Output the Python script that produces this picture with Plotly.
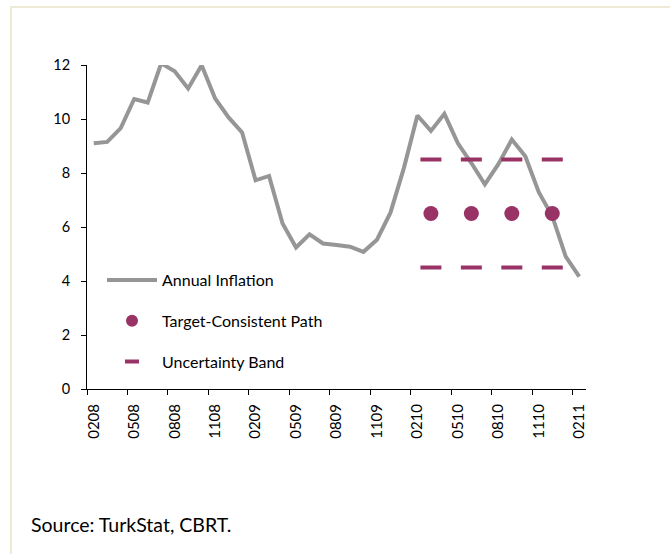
import plotly.graph_objects as go

# ---- data ----
months = ["0208","0308","0408","0508","0608","0708","0808","0908","1008","1108","1208",
          "0109","0209","0309","0409","0509","0609","0709","0809","0909","1009","1109","1209",
          "0110","0210","0310","0410","0510","0610","0710","0810","0910","1010","1110","1210",
          "0111","0211"]
inflation = [9.10, 9.15, 9.66, 10.74, 10.61, 12.06, 11.77, 11.13, 11.99, 10.76, 10.06,
             9.50, 7.73, 7.89, 6.13, 5.24, 5.73, 5.39, 5.33, 5.27, 5.08, 5.53, 6.53,
             8.19, 10.13, 9.56, 10.19, 9.10, 8.37, 7.58, 8.33, 9.24, 8.62, 7.29, 6.40,
             4.90, 4.16]
path_months = ["0310", "0610", "0910", "1210"]
path_values = [6.5, 6.5, 6.5, 6.5]
band_upper = [8.5, 8.5, 8.5, 8.5]
band_lower = [4.5, 4.5, 4.5, 4.5]
tick_labels = ["0208","0508","0808","1108","0209","0509","0809","1109",
               "0210","0510","0810","1110","0211"]
y_ticks = [0, 2, 4, 6, 8, 10, 12]

GRAY = "#969696"
PLUM = "#993366"
FONT = "Lato"

idx = {m: i for i, m in enumerate(months)}
x_all = list(range(len(months)))
x_path = [idx[m] for m in path_months]
label_pos = [idx[m] for m in tick_labels]
boundary_pos = [p - 0.5 for p in label_pos]

fig = go.Figure()
fig.add_trace(go.Scatter(x=x_all, y=inflation, mode="lines", name="Annual Inflation",
                         line=dict(color=GRAY, width=4), legendgroup="a"))
fig.add_trace(go.Scatter(x=x_path, y=path_values, mode="markers", name="Target-Consistent Path",
                         marker=dict(color=PLUM, size=15), legendgroup="b", showlegend=False))
fig.add_trace(go.Scatter(x=x_path + x_path, y=band_upper + band_lower, mode="markers",
                         name="Uncertainty Band",
                         marker=dict(symbol="line-ew", size=15, color=PLUM,
                                     line=dict(color=PLUM, width=4)),
                         legendgroup="c", showlegend=False))
# legend-only entries (smaller symbols, as in the original legend)
fig.add_trace(go.Scatter(x=[None], y=[None], mode="markers", name="Target-Consistent Path",
                         marker=dict(color=PLUM, size=12), legendgroup="b"))
fig.add_trace(go.Scatter(x=[None], y=[None], mode="markers", name="Uncertainty Band",
                         marker=dict(symbol="line-ew", size=10, color=PLUM,
                                     line=dict(color=PLUM, width=4)), legendgroup="c"))

W, H = 670, 554
L, R, T, B = 87, 84, 65, 165
pw = W - L - R
ph = H - T - B

def px(xp):
    return (xp - L) / pw

def py(yp):
    return (H - B - yp) / ph

fig.update_layout(
    width=W, height=H,
    margin=dict(l=L, r=R, t=T, b=B),
    paper_bgcolor="white", plot_bgcolor="white",
    font=dict(family=FONT, size=14, color="black"),
    showlegend=True,
    legend=dict(x=px(102), y=py(263), xanchor="left", yanchor="top",
                bgcolor="rgba(0,0,0,0)", font=dict(family=FONT, size=16),
                tracegroupgap=17, itemwidth=50, traceorder="grouped"),
    xaxis=dict(range=[-0.5, len(months) - 0.5], tickmode="array", tickvals=label_pos,
               ticktext=tick_labels, tickangle=-90, ticks="", showline=True,
               linecolor="black", linewidth=1, showgrid=False, zeroline=False,
               tickfont=dict(family=FONT, size=15), ticklabelstandoff=8,
               minor=dict(tickmode="array", tickvals=boundary_pos, ticks="outside",
                          ticklen=5, tickcolor="black", tickwidth=1, showgrid=False)),
    yaxis=dict(range=[0, 12], tickmode="array", tickvals=y_ticks, ticks="outside",
               ticklen=5, tickcolor="black", showline=True, linecolor="black",
               linewidth=1, showgrid=False, zeroline=False,
               tickfont=dict(family=FONT, size=14.5), ticklabelstandoff=8),
    shapes=[
        dict(type="line", xref="paper", yref="paper", x0=px(10), x1=px(670),
             y0=py(7), y1=py(7), line=dict(color="#EEEAD6", width=2)),
        dict(type="line", xref="paper", yref="paper", x0=px(11), x1=px(11),
             y0=py(7), y1=py(554), line=dict(color="#EEEAD6", width=2)),
    ],
    annotations=[
        dict(text="Source: TurkStat, CBRT.", xref="paper", yref="paper",
             x=px(29), y=py(524), xanchor="left", yanchor="middle", showarrow=False,
             font=dict(family=FONT, size=19.5, color="black")),
    ],
)

fig.write_html("out.html", config={"displayModeBar": False},
               post_script="document.body.style.margin='0';")
